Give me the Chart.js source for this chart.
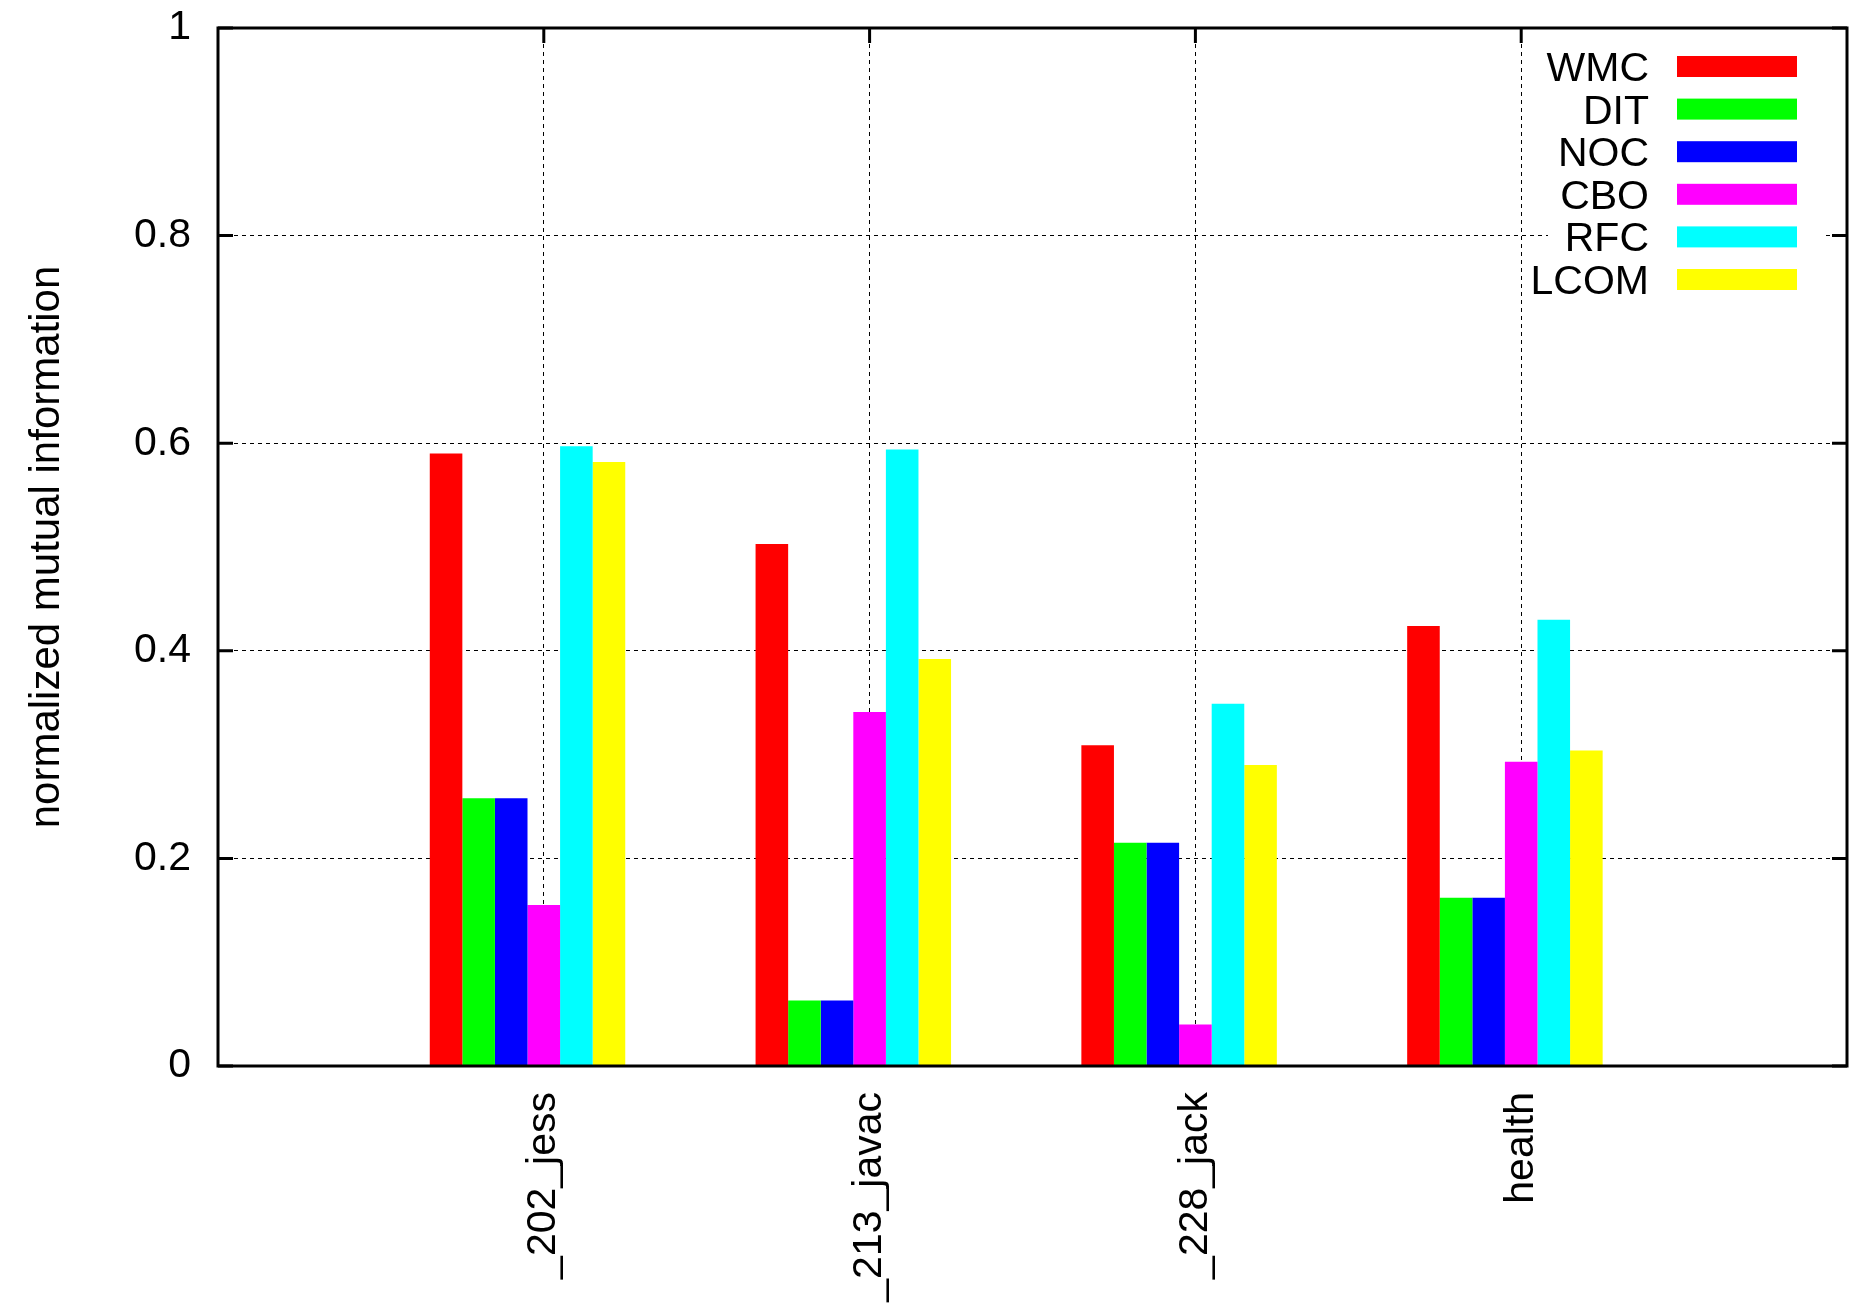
<!DOCTYPE html>
<html lang="en">
<head>
    <meta charset="UTF-8">
    <title>Normalized mutual information</title>
    <script src="https://cdn.jsdelivr.net/npm/chart.js"></script>
    <style>
        html, body { margin: 0; padding: 0; background: #fff; }
        #wrap { width: 1849px; height: 1310px; position: relative; }
    </style>
</head>
<body>
    <div id="wrap"><canvas id="nmiChart"></canvas></div>
    <script>
        // values
        const categories = ['_202_jess', '_213_javac', '_228_jack', 'health'];
        const wmc  = [0.590, 0.503, 0.309, 0.424];
        const dit  = [0.258, 0.063, 0.215, 0.162];
        const noc  = [0.258, 0.063, 0.215, 0.162];
        const cbo  = [0.155, 0.341, 0.040, 0.293];
        const rfc  = [0.597, 0.594, 0.349, 0.430];
        const lcom = [0.582, 0.392, 0.290, 0.304];
        const seriesNames = ['WMC', 'DIT', 'NOC', 'CBO', 'RFC', 'LCOM'];
        const seriesColors = ['#ff0000', '#00ff00', '#0000ff', '#ff00ff', '#00ffff', '#ffff00'];

        const FONT = '"Liberation Sans", Arial, Helvetica, sans-serif';

        // empty slot on each side, like the gnuplot xrange
        const labels = [''].concat(categories, ['']);
        const pad = arr => [null].concat(arr, [null]);

        const datasets = [wmc, dit, noc, cbo, rfc, lcom].map((vals, i) => ({
            label: seriesNames[i],
            data: pad(vals),
            backgroundColor: seriesColors[i],
            borderWidth: 0
        }));
        // empty 7th slot so the 4th bar sits on the tick
        datasets.push({ label: '', data: pad([null, null, null, null]), backgroundColor: 'rgba(0,0,0,0)', borderWidth: 0 });

        const frameAndKey = {
            id: 'frameAndKey',
            beforeDatasetsDraw(chart) {
                const { ctx, chartArea: a, scales: { x, y } } = chart;
                ctx.save();
                ctx.strokeStyle = '#000';
                ctx.lineWidth = 3;
                ctx.beginPath();
                y.ticks.forEach(t => {
                    const py = y.getPixelForValue(t.value);
                    ctx.moveTo(a.left, py); ctx.lineTo(a.left + 15, py);
                    ctx.moveTo(a.right, py); ctx.lineTo(a.right - 15, py);
                });
                for (let i = 1; i <= categories.length; i++) {
                    const px = x.getPixelForTick(i);
                    ctx.moveTo(px, a.top); ctx.lineTo(px, a.top + 15);
                    ctx.moveTo(px, a.bottom); ctx.lineTo(px, a.bottom - 15);
                }
                ctx.stroke();
                ctx.restore();
            },
            afterDatasetsDraw(chart) {
                const { ctx, chartArea: a } = chart;
                ctx.save();
                ctx.strokeStyle = '#000';
                ctx.lineWidth = 3;
                ctx.strokeRect(a.left, a.top, a.right - a.left, a.bottom - a.top);

                // key inside the top right corner
                ctx.fillStyle = '#fff';
                ctx.fillRect(a.right - 299, a.top + 14, 274, 290);
                ctx.font = '41px ' + FONT;
                ctx.textAlign = 'right';
                ctx.textBaseline = 'alphabetic';
                chart.data.datasets.forEach((ds, i) => {
                    if (!ds.label) return;
                    const cy = a.top + 38.5 + i * 42.6;
                    ctx.fillStyle = '#000';
                    ctx.fillText(ds.label, a.right - 198, cy + 14.5);
                    ctx.fillStyle = ds.backgroundColor;
                    ctx.fillRect(a.right - 170, cy - 10.5, 120, 21);
                });
                ctx.restore();
            }
        };

        const ctx = document.getElementById('nmiChart').getContext('2d');
        new Chart(ctx, {
            type: 'bar',
            data: { labels: labels, datasets: datasets },
            options: {
                responsive: true,
                maintainAspectRatio: false,
                animation: false,
                layout: { padding: { top: 28, right: 2, bottom: 0, left: 0 } },
                categoryPercentage: 0.7,
                barPercentage: 1.0,
                plugins: {
                    legend: { display: false },
                    tooltip: { enabled: false }
                },
                scales: {
                    x: {
                        offset: false,
                        grid: {
                            offset: false,
                            color: '#000',
                            lineWidth: 1,
                            drawTicks: false
                        },
                        border: { display: false, dash: [4, 4] },
                        ticks: {
                            autoSkip: false,
                            minRotation: 90,
                            maxRotation: 90,
                            padding: 26,
                            color: '#000',
                            font: { family: FONT, size: 41 }
                        },
                        afterFit(scale) {
                            scale.height = 244;
                            scale.paddingLeft = 0;
                            scale.paddingRight = 0;
                        }
                    },
                    y: {
                        min: 0,
                        max: 1,
                        grid: {
                            color: '#000',
                            lineWidth: 1,
                            drawTicks: false
                        },
                        border: { display: false, dash: [4, 4] },
                        ticks: {
                            stepSize: 0.2,
                            padding: 27,
                            color: '#000',
                            font: { family: FONT, size: 41 },
                            callback: v => String(+v.toFixed(1))
                        },
                        title: {
                            display: true,
                            text: 'normalized mutual information',
                            color: '#000',
                            font: { family: FONT, size: 42 },
                            padding: { top: 22, bottom: 0 }
                        },
                        afterFit(scale) {
                            scale.width = 218;
                            scale.paddingTop = 0;
                            scale.paddingBottom = 0;
                        }
                    }
                }
            },
            plugins: [frameAndKey]
        });
    </script>
</body>
</html>
